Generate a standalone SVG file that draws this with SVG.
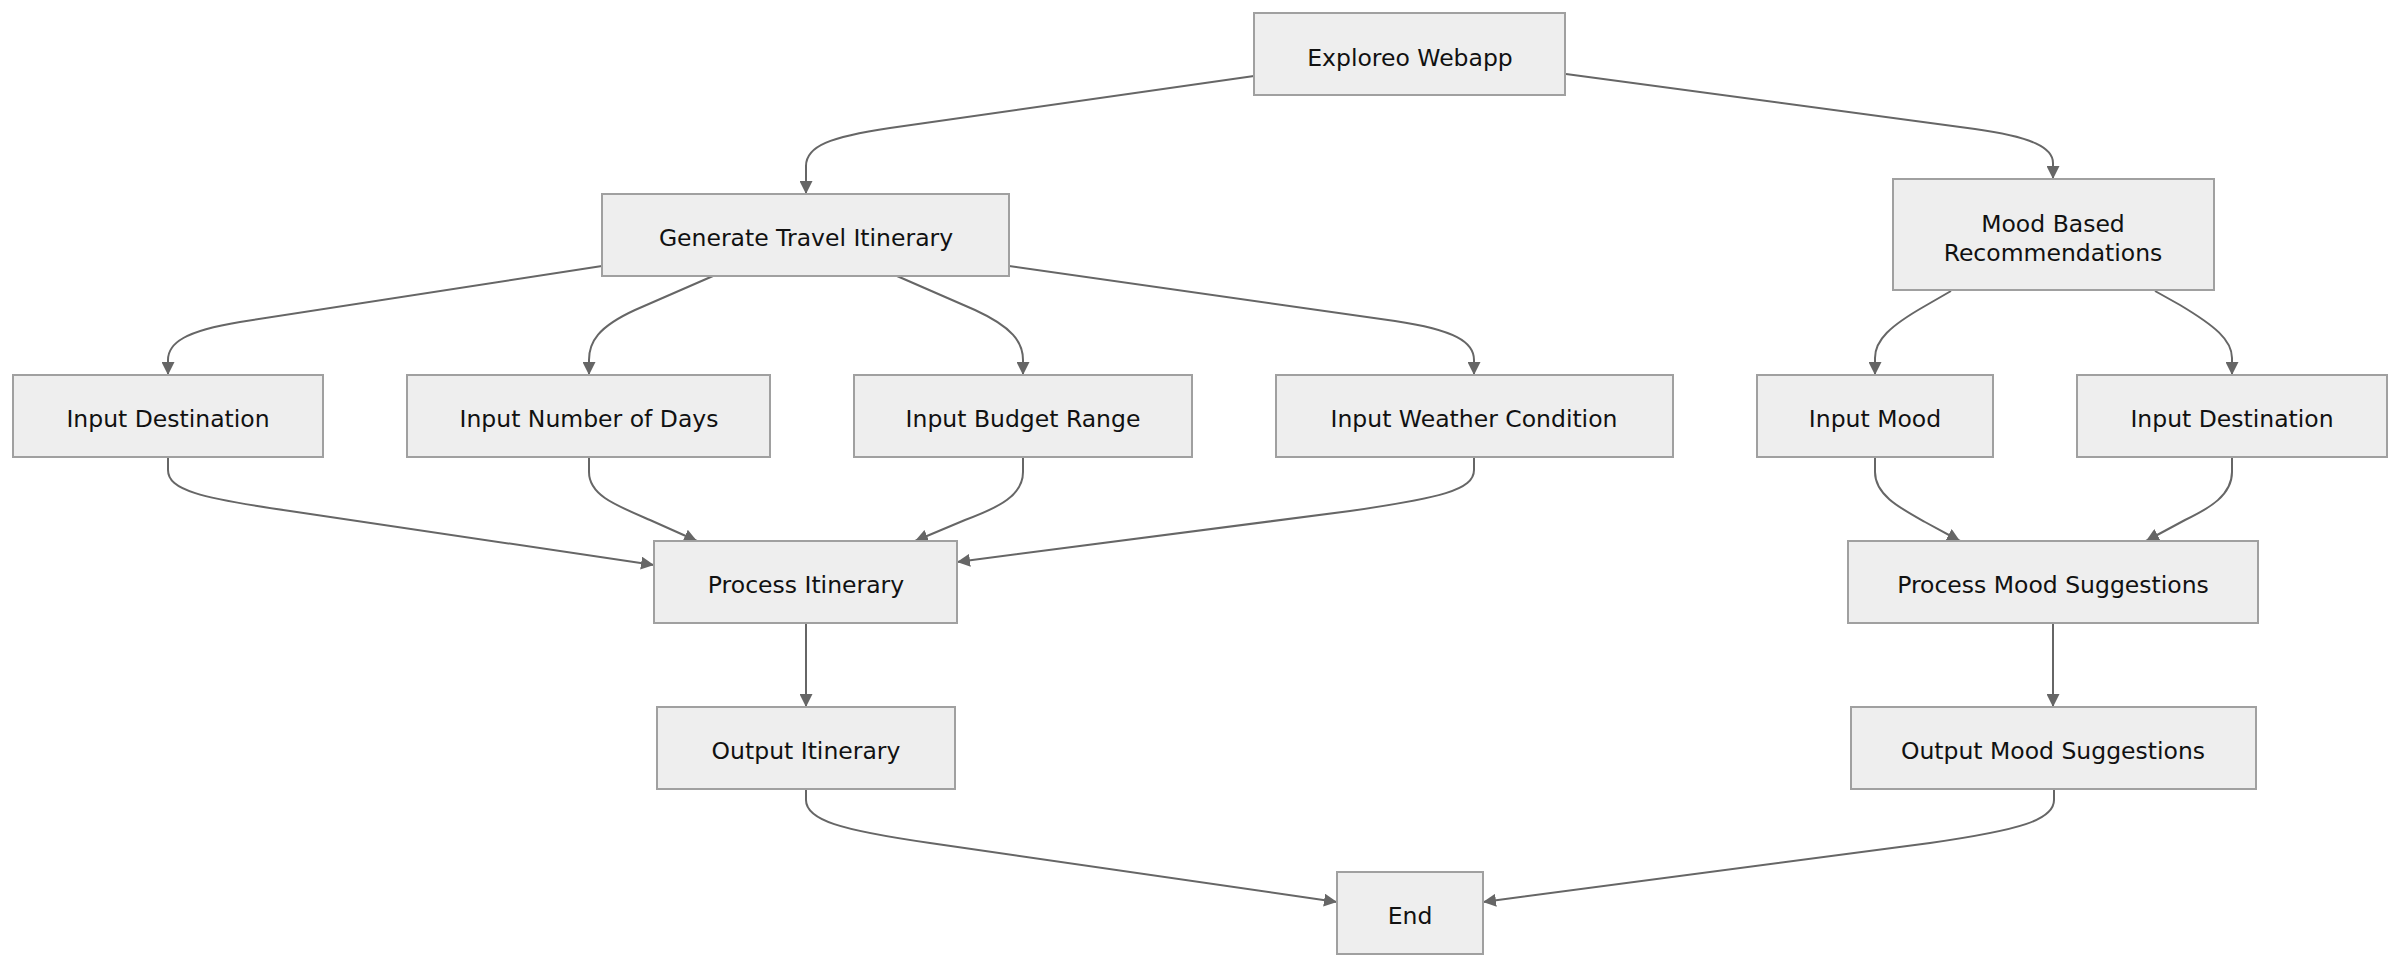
<svg xmlns="http://www.w3.org/2000/svg" width="2400" height="968" viewBox="0 0 2400 968">
<style>
.node rect{fill:#eeeeee;stroke:#a0a0a0;stroke-width:2}
.node text{font-family:"DejaVu Sans",Verdana,sans-serif;font-size:23.5px;fill:#111;text-anchor:middle}
.edges path{fill:none;stroke:#666666;stroke-width:2;marker-end:url(#arrow)}
</style>
<defs>
<marker id="arrow" viewBox="0 0 10 10" refX="10" refY="5" markerWidth="13" markerHeight="13" markerUnits="userSpaceOnUse" orient="auto">
<path d="M0,0 L10,5 L0,10 z" fill="#666666"/>
</marker>
</defs>
<rect width="2400" height="968" fill="#ffffff"/>
<g class="edges">
<path d="M1254,76 L890,128 C830,137 806,146 806,166 L806,194"/>
<path d="M1566,74 L1975,129 C2033,137 2053,148 2053,163 L2053,179"/>
<path d="M602,266 L240,322 C185,331 168,343 168,360 L168,375"/>
<path d="M713,276 L635,310 C598,327 589,342 589,360 L589,375"/>
<path d="M897,276 L975,310 C1012,327 1023,342 1023,360 L1023,375"/>
<path d="M1009,266 L1395,321 C1455,330 1474,342 1474,360 L1474,375"/>
<path d="M1951,291 L1925,306 C1890,326 1875,340 1875,358 L1875,375"/>
<path d="M2155,291 L2180,305 C2215,326 2232,340 2232,358 L2232,375"/>
<path d="M168,457 L168,470 C168,490 200,498 290,511 L654,565"/>
<path d="M589,457 L589,472 C589,495 615,505 650,520 L697,541"/>
<path d="M1023,457 L1023,472 C1023,495 1000,507 965,520 L915,541"/>
<path d="M1474,457 L1474,470 C1474,490 1440,498 1350,511 L957,562"/>
<path d="M1875,457 L1875,472 C1875,495 1900,508 1925,522 L1960,541"/>
<path d="M2232,457 L2232,472 C2232,495 2210,508 2185,520 L2146,541"/>
<path d="M806,623 L806,707"/>
<path d="M2053,623 L2053,707"/>
<path d="M806,789 L806,800 C806,820 840,830 930,843 L1337,902"/>
<path d="M2054,789 L2054,800 C2054,820 2020,830 1930,843 L1483,902"/>
</g>
<g id="exploreo" class="node"><rect x="1254" y="13" width="311" height="82"/><text x="1410" y="66">Exploreo Webapp</text></g>
<g id="generate" class="node"><rect x="602" y="194" width="407" height="82"/><text x="806" y="246">Generate Travel Itinerary</text></g>
<g id="mood" class="node"><rect x="1893" y="179" width="321" height="111"/><text x="2053" y="232">Mood Based</text><text x="2053" y="261">Recommendations</text></g>
<g id="inputDest1" class="node"><rect x="13" y="375" width="310" height="82"/><text x="168" y="427">Input Destination</text></g>
<g id="inputDays" class="node"><rect x="407" y="375" width="363" height="82"/><text x="589" y="427">Input Number of Days</text></g>
<g id="inputBudget" class="node"><rect x="854" y="375" width="338" height="82"/><text x="1023" y="427">Input Budget Range</text></g>
<g id="inputWeather" class="node"><rect x="1276" y="375" width="397" height="82"/><text x="1474" y="427">Input Weather Condition</text></g>
<g id="inputMood" class="node"><rect x="1757" y="375" width="236" height="82"/><text x="1875" y="427">Input Mood</text></g>
<g id="inputDest2" class="node"><rect x="2077" y="375" width="310" height="82"/><text x="2232" y="427">Input Destination</text></g>
<g id="processItin" class="node"><rect x="654" y="541" width="303" height="82"/><text x="806" y="593">Process Itinerary</text></g>
<g id="processMood" class="node"><rect x="1848" y="541" width="410" height="82"/><text x="2053" y="593">Process Mood Suggestions</text></g>
<g id="outputItin" class="node"><rect x="657" y="707" width="298" height="82"/><text x="806" y="759">Output Itinerary</text></g>
<g id="outputMood" class="node"><rect x="1851" y="707" width="405" height="82"/><text x="2053" y="759">Output Mood Suggestions</text></g>
<g id="end" class="node"><rect x="1337" y="872" width="146" height="82"/><text x="1410" y="924">End</text></g>
</svg>
